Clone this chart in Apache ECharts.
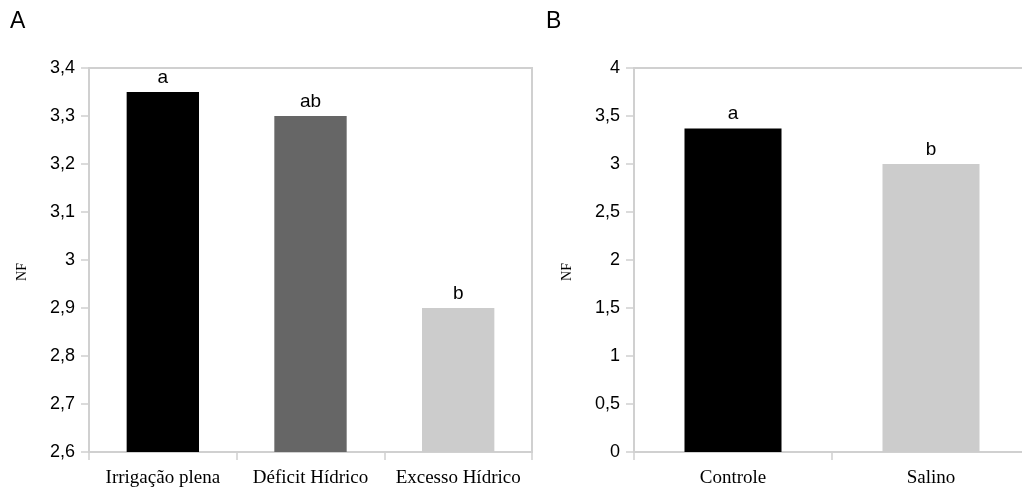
<!DOCTYPE html>
<html>
<head>
<meta charset="utf-8">
<script src="https://cdn.jsdelivr.net/npm/echarts@6/dist/echarts.min.js"></script>
<style>html,body{margin:0;padding:0;background:#fff}#c{width:1022px;height:491px}</style>
</head>
<body>
<div id="c"></div>
<script>
const catsA = ['Irrigação plena', 'Déficit Hídrico', 'Excesso Hídrico'];
const valsA = [3.35, 3.30, 2.90];
const lettersA = ['a', 'ab', 'b'];
const colorsA = ['#000000', '#666666', '#cccccc'];
const ticksA = { min: 2.6, max: 3.4, interval: 0.1 };

const catsB = ['Controle', 'Salino'];
const valsB = [3.37, 3.00];
const lettersB = ['a', 'b'];
const colorsB = ['#000000', '#cccccc'];
const ticksB = { min: 0, max: 4, interval: 0.5 };

const yName = 'NF';
const panelTitles = ['A', 'B'];

const gridLine = '#d0d0d0';
const sans = 'Liberation Sans';
const serif = 'Liberation Serif';

function fmt(v) { return String(Math.round(v * 10) / 10).replace('.', ','); }

function xAxis(idx, cats) {
  return {
    type: 'category', gridIndex: idx, data: cats,
    axisLine: { lineStyle: { color: gridLine, width: 1.5 } },
    axisTick: { show: true, length: 8, lineStyle: { color: gridLine, width: 1.5 } },
    axisLabel: { fontFamily: serif, fontSize: 19, color: '#000', margin: 17, interval: 0, hideOverlap: false }
  };
}
function yAxis(idx, t) {
  return {
    type: 'value', gridIndex: idx, min: t.min, max: t.max, interval: t.interval,
    name: yName, nameLocation: 'middle', nameGap: 60, nameRotate: 90,
    nameTextStyle: { fontFamily: serif, fontSize: 14, color: '#000', padding: [0, 24, 0, 0] },
    axisLine: { show: true, lineStyle: { color: gridLine, width: 1.5 } },
    axisTick: { show: true, length: 8, lineStyle: { color: gridLine, width: 1.5 } },
    axisLabel: { fontFamily: sans, fontSize: 18, color: '#000', margin: 14, formatter: fmt },
    splitLine: { show: false }
  };
}
function bars(idx, vals, colors, letters) {
  return {
    type: 'bar', xAxisIndex: idx, yAxisIndex: idx, barWidth: '49%',
    data: vals.map((v, i) => ({ value: v, itemStyle: { color: colors[i] } })),
    label: {
      show: true, position: 'top', distance: 5,
      fontFamily: sans, fontSize: 19, color: '#000',
      formatter: p => letters[p.dataIndex]
    },
    animation: false
  };
}

const chart = echarts.init(document.getElementById('c'), null, { renderer: 'canvas' });
chart.setOption({
  animation: false,
  backgroundColor: '#fff',
  title: [
    { text: panelTitles[0], left: 5, top: 5, textStyle: { fontFamily: sans, fontSize: 23, fontWeight: 'normal', color: '#000' } },
    { text: panelTitles[1], left: 541, top: 5, textStyle: { fontFamily: sans, fontSize: 23, fontWeight: 'normal', color: '#000' } }
  ],
  grid: [
    { left: 89, top: 68, width: 443, height: 384, show: true, borderColor: gridLine, borderWidth: 2, backgroundColor: 'transparent', containLabel: false, outerBoundsMode: 'none' },
    { left: 634, top: 68, width: 396, height: 384, show: true, borderColor: gridLine, borderWidth: 2, backgroundColor: 'transparent', containLabel: false, outerBoundsMode: 'none' }
  ],
  xAxis: [xAxis(0, catsA), xAxis(1, catsB)],
  yAxis: [yAxis(0, ticksA), yAxis(1, ticksB)],
  series: [bars(0, valsA, colorsA, lettersA), bars(1, valsB, colorsB, lettersB)]
});
</script>
</body>
</html>
